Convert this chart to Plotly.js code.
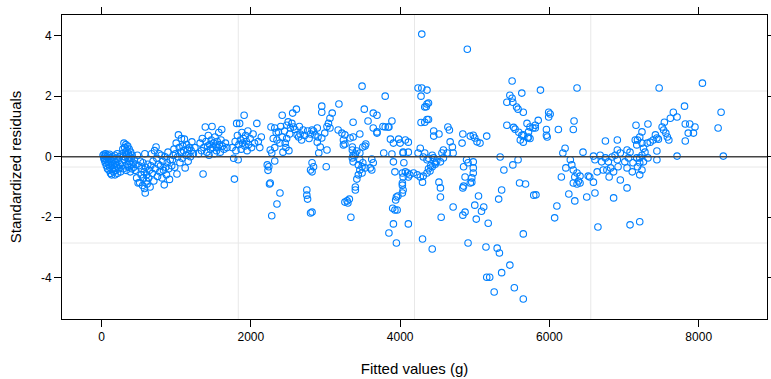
<!DOCTYPE html>
<html>
<head>
<meta charset="utf-8">
<script src="https://cdn.plot.ly/plotly-3.0.1.min.js"></script>
<style>html,body{margin:0;padding:0;background:#fff;}#chart{width:771px;height:379px;}</style>
</head>
<body>
<div id="chart"></div>
<script>
// [fitted value (g), standardized residual]
const groupA = [[20,0.05],[30,-0.05],[35,0.08],[40,-0.12],[45,0.02],[50,-0.2],[55,0.1],[60,-0.08],[65,-0.3],[70,0.0],[75,-0.15],[80,-0.4],[85,0.05],[90,-0.25],[95,-0.1],[100,-0.45],[105,0.08],[110,-0.35],[115,-0.2],[120,-0.55],[125,-0.05],[130,-0.3],[135,-0.6],[140,-0.15],[145,-0.42],[150,0.0],[155,-0.25],[160,-0.5],[165,-0.1],[170,-0.35],[175,0.05],[180,-0.6],[185,-0.2],[190,-0.45],[195,-0.05],[200,-0.3],[210,0.1],[215,-0.55],[220,-0.15],[230,-0.4],[240,0.0],[250,-0.25],[255,-0.5]];
const groupB = [[275,0.1],[280,-0.2],[285,0.25],[290,-0.4],[295,0.0],[300,0.45],[305,-0.1],[310,0.3],[315,-0.3],[320,0.15],[325,0.4],[330,-0.45],[335,0.05],[340,0.2],[345,-0.25],[350,0.35],[355,-0.05],[360,0.1],[365,-0.35],[370,0.25],[375,-0.15],[380,0.0],[385,-0.5],[390,0.15],[395,-0.25],[400,-0.05],[405,-0.4],[410,0.05],[420,-0.2],[430,-0.35]];
const groupC = [[440,-0.1],[450,-0.45],[460,-0.25],[470,-0.7],[480,0.05],[490,-0.87],[500,-0.3],[510,-0.85],[520,-0.15],[530,-0.6],[540,-0.4],[550,-0.95],[555,-0.2],[560,-0.7],[570,-0.5],[575,-1.05],[580,0.1],[585,-1.2],[590,-0.35],[600,-0.8],[605,-0.6],[610,-0.9],[620,-0.25],[630,-0.7],[640,-0.45],[650,-1.0]];
const groupD = [[660,-0.3],[670,0.1],[680,-0.55],[690,-0.15],[700,-0.8],[710,0.2],[720,-0.4],[730,0.32],[740,-0.05],[750,-0.65],[760,-0.25],[770,0.1],[780,-0.5],[790,-0.3],[800,0.05],[810,-0.7],[820,-0.15],[830,-0.45],[840,-0.93],[850,0.0],[860,-0.35],[870,-0.6],[880,-0.2],[890,0.15],[900,-0.4],[910,-0.75],[920,-0.1],[940,-0.3],[960,0.05]];
const groupE = [[950,-0.1],[970,0.25],[980,-0.35],[990,0.1],[1000,0.45],[1010,-0.57],[1020,0.0],[1030,0.72],[1040,0.3],[1050,-0.2],[1060,0.15],[1070,0.6],[1080,-0.05],[1090,0.35],[1100,0.2],[1110,0.58],[1120,-0.37],[1130,0.05],[1140,0.4],[1150,0.25],[1160,-0.15],[1170,0.1],[1180,0.3],[1190,0.0],[1200,0.2],[1210,0.49],[1230,0.1],[1250,0.3]];
const groupF = [[1300,0.1],[1320,0.45],[1340,0.2],[1350,0.6],[1360,-0.57],[1370,0.3],[1390,0.98],[1400,0.5],[1410,0.15],[1420,0.35],[1430,0.7],[1440,0.05],[1450,0.4],[1460,0.25],[1470,0.55],[1480,1.0],[1490,0.3],[1500,0.45],[1510,0.1],[1520,0.65],[1530,0.35],[1540,0.2],[1550,0.5],[1560,0.3],[1570,0.8],[1580,0.4],[1590,0.15],[1600,0.55],[1610,0.9],[1620,0.35],[1640,0.25],[1660,0.45],[1680,0.3]];
const groupG = [[1750,0.3],[1770,-0.05],[1780,-0.74],[1790,0.5],[1800,0.2],[1810,1.1],[1820,0.7],[1830,-0.1],[1840,0.4],[1850,1.1],[1860,0.55],[1870,0.25],[1880,0.8],[1890,0.45],[1900,0.6],[1910,1.37],[1920,0.35],[1930,0.7],[1940,0.5],[1950,0.2],[1960,0.85],[1970,0.4],[1990,0.6],[2010,0.3],[2030,0.75],[2050,0.45],[2080,1.1],[2100,0.5],[2120,0.3],[2140,0.65]];
const groupH = [[2270,0.98],[2260,0.22],[2220,-0.27],[2230,-0.45],[2320,-0.14],[2250,-0.9],[2390,-1.2],[2350,-1.56],[2280,-1.95],[2420,1.37],[2500,1.15],[2560,1.44],[2610,1.57],[2750,-1.1],[2750,-1.27],[2760,-1.4],[2800,-1.86],[2820,-0.2],[2820,-0.5],[2320,0.95],[2370,0.82],[2420,0.65],[2390,0.45],[2460,0.45],[2430,0.15],[2320,0.3],[2350,0.55],[2280,0.12],[2240,-0.33],[2260,-0.87],[2480,1.04],[2530,0.95],[2570,0.98],[2700,0.88],[2660,0.75],[2620,0.72],[2640,0.65],[2890,0.95],[2840,0.85],[2860,0.72],[2900,0.65],[2890,0.48],[2930,0.32],[2910,0.12],[2840,-0.33],[2300,0.6],[2340,0.8],[2400,1.0],[2450,0.85],[2480,0.6],[2520,0.75],[2550,1.1],[2590,0.9],[2650,1.0],[2680,0.55],[2720,0.7],[2760,0.85],[2780,0.6],[2800,0.75],[2470,0.3],[2510,0.2],[2820,0.88],[2800,-0.44]];
const groupI = [[2950,1.67],[2950,1.47],[3180,1.74],[3090,1.44],[3060,1.27],[3040,1.1],[3520,1.57],[3640,1.44],[3690,1.37],[3570,1.18],[3370,1.14],[3460,0.75],[3370,0.65],[3260,0.72],[3170,0.88],[3220,0.78],[3240,0.55],[3260,0.42],[3060,0.95],[3020,1.0],[2990,0.78],[3330,0.62],[3360,0.32],[3420,0.19],[3400,0.09],[3460,0.12],[3500,0.32],[3540,0.42],[3360,-0.04],[3370,-0.17],[3460,-0.1],[3440,-0.27],[3460,-0.44],[3490,-0.54],[3620,-0.08],[3640,-0.2],[3600,-0.37],[3010,-0.33],[3020,0.22],[2950,0.62],[3240,0.39],[3490,-0.33],[3440,-0.6],[3420,-0.74],[3400,-1.0],[3530,0.35],[3360,0.22],[3370,0.05],[3620,-0.44],[3530,-0.37],[3500,-0.2],[3490,2.33],[3260,-1.5],[3290,-1.46],[3320,-1.4],[3300,-1.53],[3340,-2.0],[3400,-1.1],[2820,-1.83],[3640,0.95],[3690,0.82],[3770,1.0],[3850,0.98],[3690,0.78]];
const groupJ = [[3800,2.0],[4240,2.27],[4290,2.27],[4360,2.2],[4280,2.0],[4380,1.77],[4350,1.65],[4360,1.23],[4380,1.23],[4280,1.13],[3890,1.18],[3800,0.98],[3840,0.98],[3870,0.58],[3910,0.45],[3980,0.58],[4000,0.45],[4070,0.55],[4110,0.48],[3780,0.12],[3890,0.09],[4040,0.12],[4110,0.15],[3910,-0.17],[3930,-0.5],[4050,-0.2],[4070,-0.5],[4030,-0.54],[4040,-0.67],[4030,-0.87],[4100,-0.54],[4110,-0.67],[4180,-0.54],[4230,-0.6],[4270,-0.67],[4310,-0.64],[4360,-0.54],[4400,-0.47],[4270,0.28],[4310,-0.01],[4360,-0.1],[4430,0.05],[4450,-0.04],[4470,-0.2],[4430,-0.33],[4290,4.05],[4240,0.12],[4300,-0.84],[4030,-0.94],[4040,-1.1],[3970,-1.3],[3940,-1.43],[3900,-1.7],[3960,-1.76],[3910,-2.22],[4110,-2.22],[3850,-2.52],[3950,-2.85],[4300,-2.72],[4430,-3.05],[3930,-1.76],[3950,-1.33],[4030,-1.2],[4040,0.15],[4360,1.74],[4330,1.64],[4330,1.14],[4330,0.12],[4130,-0.6],[4380,-0.05],[4410,-0.3],[4380,-0.4],[4470,-0.25],[4490,-0.15]];
const groupK = [[4900,3.55],[4450,0.85],[4450,0.68],[4520,0.75],[4640,0.98],[4660,0.88],[4840,0.75],[4940,0.68],[4980,0.71],[5000,0.62],[5030,0.49],[5070,0.45],[5160,0.68],[4830,0.45],[4670,0.49],[4700,0.32],[4580,0.22],[4560,0.12],[4630,0.12],[4710,0.12],[4540,-0.17],[4580,-0.04],[4890,-0.1],[4850,-0.33],[4980,-0.17],[4980,-0.37],[4980,-0.54],[4960,-0.7],[4960,-0.84],[4940,-0.87],[4870,-0.67],[4850,-0.97],[4910,-0.2],[5340,-0.01],[5390,-0.44],[5510,-0.27],[5580,-0.1],[5600,-0.87],[5680,-0.9],[5790,-1.27],[4520,-0.84],[4540,-1.03],[4540,-1.33],[4840,-1.03],[4710,-1.66],[4550,-2.0],[4840,-1.93],[4870,-1.83],[5000,-1.6],[5050,-1.3],[5120,-1.66],[5090,-1.8],[5020,-2.06],[5180,-2.2],[5360,-1.1],[5320,-1.4],[5650,-2.55],[4910,-2.85],[5150,-2.98],[5300,-3.02],[5330,-3.18],[5470,-3.58],[5360,-3.83],[5160,-3.98],[5200,-3.98],[5260,-4.47],[5530,-4.33],[5650,-4.7],[5500,2.5],[5470,2.03],[5500,1.93],[5430,1.8],[5510,1.8],[5560,1.64],[5580,1.57],[5650,1.47],[5630,2.1],[5430,1.04],[5540,0.91],[5590,0.81],[5630,0.71],[5610,0.55],[5650,0.48],[5700,1.1],[5740,0.98],[5780,0.95],[5710,0.62],[5520,0.97]];
const groupL = [[5880,2.2],[6370,2.27],[5990,1.47],[6010,1.41],[5990,1.31],[5850,1.2],[5810,1.04],[5810,0.95],[5960,0.9],[5960,0.71],[5970,0.65],[6120,0.9],[6330,1.18],[6320,0.9],[5740,0.6],[6210,0.28],[6180,0.12],[6450,0.15],[5720,0.82],[5650,0.72],[5720,0.65],[6280,-0.1],[6300,-0.27],[6220,-0.37],[6320,-0.44],[6370,-0.54],[6340,-0.67],[6410,-0.64],[6390,-0.8],[6320,-0.87],[6370,-0.9],[6410,-0.87],[6160,-0.67],[6520,-0.64],[6540,-0.67],[6590,-0.84],[6640,-0.5],[6610,-0.1],[6590,0.02],[6070,-2.02],[6100,-1.63],[5820,-1.26],[6260,-1.23],[6340,-1.46],[6500,-1.33],[6610,-1.2]];
const groupM = [[6680,0.05],[6700,-0.17],[6750,-0.04],[6790,-0.17],[6840,-0.01],[6880,0.05],[6910,0.22],[6950,0.12],[6910,-0.1],[6920,-0.33],[6820,-0.37],[6860,-0.5],[7010,-0.17],[7080,0.15],[7060,-0.04],[7120,-0.2],[7170,-0.04],[7110,-0.5],[7040,-0.37],[6950,-0.77],[7040,-1.03],[6860,-1.36],[6800,-0.67],[6770,-0.44],[6720,-0.44],[6910,0.55],[6750,0.52],[7040,0.22],[7160,1.04],[7150,0.55],[6650,-2.32],[7080,-2.25],[7470,2.27],[8050,2.43],[7810,1.67],[8300,1.47],[8260,0.95],[8330,0.02],[7710,0.02],[7660,1.47],[7710,1.31],[7620,1.27],[7540,1.14],[7320,1.08],[7820,1.08],[7880,1.08],[7950,0.98],[7860,0.78],[7930,0.78],[7820,0.52],[7510,0.98],[7530,0.88],[7560,0.78],[7580,0.65],[7600,0.55],[7420,0.72],[7440,0.62],[7390,0.55],[7350,0.48],[7310,0.45],[7460,0.58],[7240,0.82],[7210,0.65],[7180,0.55],[7240,0.45],[7170,0.39],[7260,0.28],[7280,0.15],[7240,0.05],[7210,-0.04],[7260,-0.17],[7210,-0.2],[7180,-0.33],[7240,-0.44],[7210,-0.6],[7320,-0.04],[7440,-0.1],[7440,0.19],[7210,-2.15]];

const xTickVals = [0, 2000, 4000, 6000, 8000];
const xTickText = ['0', '2000', '4000', '6000', '8000'];
const yTickVals = [-4, -2, 0, 2, 4];
const yTickText = ['-4', '-2', '0', '2', '4'];

const allPts = [].concat(groupA, groupB, groupC, groupD, groupE, groupF, groupG, groupH, groupI, groupJ, groupK, groupL, groupM);
const fitted = allPts.map(p => p[0]);
const resid = allPts.map(p => p[1]);

const font = 'Liberation Sans, Arial, sans-serif';
const grid = {color: '#e8e8e8', width: 1};

const trace = {
  x: fitted, y: resid, type: 'scatter', mode: 'markers',
  marker: {symbol: 'circle-open', size: 6.5, color: '#0080ff', line: {width: 1.1, color: '#0080ff'}},
  hoverinfo: 'x+y', showlegend: false
};

const shapes = [0.25, 0.5, 0.75].map(f => ({type: 'line', xref: 'paper', yref: 'paper', x0: f, x1: f, y0: 0, y1: 1, line: grid, layer: 'below'}))
  .concat([0.25, 0.5, 0.75].map(f => ({type: 'line', xref: 'paper', yref: 'paper', x0: 0, x1: 1, y0: f, y1: f, line: grid, layer: 'below'})))
  .concat([{type: 'line', xref: 'paper', yref: 'y', x0: 0, x1: 1, y0: 0, y1: 0, line: {color: '#444', width: 1.5}, layer: 'above'}]);

const layout = {
  width: 771, height: 379,
  margin: {l: 62, r: 4, t: 15, b: 60},
  paper_bgcolor: '#fff', plot_bgcolor: '#fff',
  font: {family: font, size: 12, color: '#000'},
  xaxis: {
    range: [-530, 8915], tickvals: xTickVals, ticktext: xTickText,
    ticks: 'outside', ticklen: 7, tickwidth: 1, tickcolor: '#000',
    showline: true, linecolor: '#000', linewidth: 1, mirror: 'ticks',
    showgrid: false, zeroline: false,
    tickfont: {family: font, size: 12, color: '#000'},
    title: {text: 'Fitted values (g)', font: {family: font, size: 15, color: '#000'}, standoff: 20}
  },
  yaxis: {
    range: [-5.36, 4.68], tickvals: yTickVals, ticktext: yTickText,
    ticks: 'outside', ticklen: 7, tickwidth: 1, tickcolor: '#000',
    showline: true, linecolor: '#000', linewidth: 1, mirror: 'ticks',
    showgrid: false, zeroline: false,
    tickfont: {family: font, size: 12, color: '#000'},
    title: {text: 'Standardized residuals', font: {family: font, size: 15, color: '#000'}, standoff: 15}
  },
  shapes: shapes
};

Plotly.newPlot('chart', [trace], layout, {displayModeBar: false, staticPlot: true});
</script>
</body>
</html>
